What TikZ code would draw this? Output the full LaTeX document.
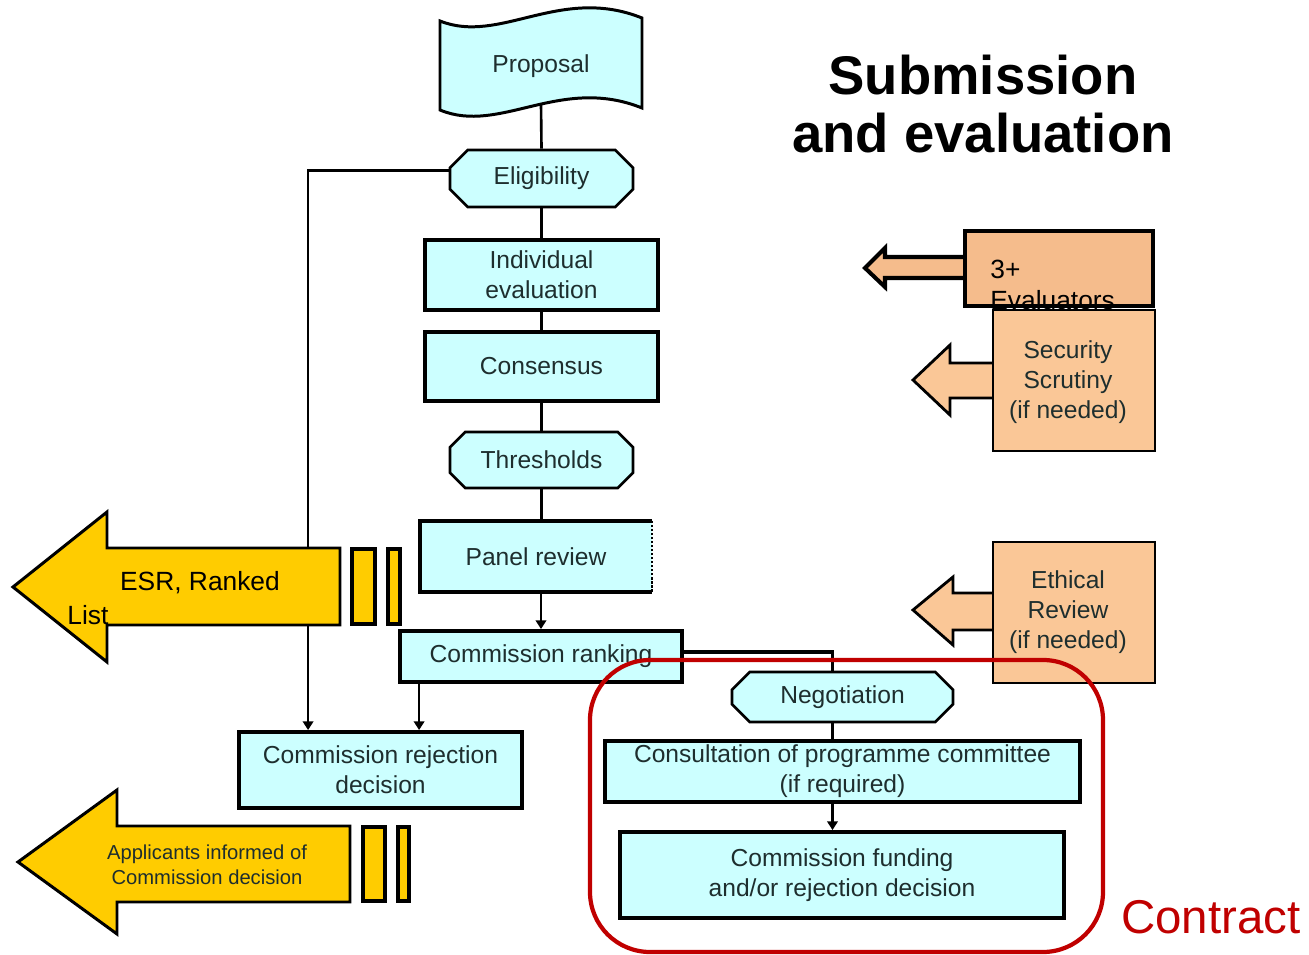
\documentclass[tikz,border=0pt]{standalone}
\usepackage{fontspec}
\setmainfont{Liberation Sans}
\usetikzlibrary{shapes.misc,arrows.meta,calc}
\definecolor{cyanfill}{HTML}{CCFFFF}
\definecolor{txt}{HTML}{1E2E2E}
\definecolor{yel}{HTML}{FFCC00}
\definecolor{org}{HTML}{FAC797}
\definecolor{orgd}{HTML}{F5BC8C}
\definecolor{redc}{HTML}{C00000}
\begin{document}
\begin{tikzpicture}[x=0.02cm,y=-0.02cm,
  boxtxt/.style={font=\fontsize{14}{17}\selectfont, text=txt, align=center},
  box/.style={boxtxt, draw=black, line width=2.2pt, fill=cyanfill, inner sep=0pt},
  chbox/.style={boxtxt, chamfered rectangle, chamfered rectangle xsep=0.26cm, draw=black, line width=1.5pt, fill=cyanfill, inner sep=0pt},
  conn/.style={line width=1.5pt, draw=black},
  arr/.style={-{Triangle[length=5pt,width=6pt]}},
  yshape/.style={fill=yel, draw=black, line width=1.7pt, line join=miter},
  ybar/.style={fill=yel, draw=black, line width=2.6pt},
  oshape/.style={fill=org, draw=black, line width=1.6pt, line join=miter}]
\useasboundingbox (0,0) rectangle (1309,955);

% Proposal banner
\draw[line width=1.7pt, fill=cyanfill] (440,21) .. controls (500,45) and (560,-15) .. (642,18) -- (642,108) .. controls (560,75) and (500,135) .. (440,110) -- cycle;
\node[boxtxt, minimum width=4.04cm, minimum height=1.48cm, inner sep=0pt] (prop) at (541,66) {Proposal};

% Main column
\node[chbox, minimum width=3.66cm, minimum height=1.14cm] (elig) at (541.5,178.5) {Eligibility};
\node[box, minimum width=4.66cm, minimum height=1.40cm] (ind) at (541.5,275) {Individual\\evaluation};
\node[box, minimum width=4.66cm, minimum height=1.38cm] (cons) at (541.5,366.5) {Consensus};
\node[chbox, minimum width=3.66cm, minimum height=1.12cm] (thr) at (541.5,460) {Thresholds};
\node[boxtxt, fill=cyanfill, inner sep=0pt, minimum width=4.64cm, minimum height=1.42cm] (pr) at (536,556.5) {Panel review};
\draw[line width=2.2pt] (pr.north east) -- (pr.north west) -- (pr.south west) -- (pr.south east);
\draw[line width=1.3pt, densely dotted] (pr.north east) -- (pr.south east);
\node[box, minimum width=5.64cm, minimum height=1.02cm] (rank) at (541,656.5) {Commission ranking};
\node[box, minimum width=5.66cm, minimum height=1.52cm] (rej) at (380.5,770) {Commission rejection\\decision};

% Contract column
\node[chbox, minimum width=4.42cm, minimum height=1.0cm] (neg) at (842.5,697) {Negotiation};
\node[box, minimum width=9.5cm, minimum height=1.22cm] (cst) at (842.5,771.5) {Consultation of programme committee\\(if required)};
\node[box, minimum width=8.88cm, minimum height=1.72cm] (fund) at (842,875) {Commission funding\\and/or rejection decision};

% Connectors
\draw[conn] (prop.south) -- (elig.north);
\draw[conn] (elig.south) -- (ind.north);
\draw[conn] (ind.south) -- (cons.north);
\draw[conn] (cons.south) -- (thr.north);
\draw[conn] (thr.south) -- (thr.south |- pr.north);
\draw[conn, arr] (pr.south -| rank.north) -- (rank.north);
\draw[conn, arr] ([yshift=0.16cm]elig.west) -| ([xshift=1.42cm]rej.north west);
\draw[conn, arr] ([xshift=0.42cm]rank.south west) coordinate (t1) -- (t1 |- rej.north);
\draw[line width=2pt] ([yshift=0.09cm]rank.east) -| ([xshift=-0.2cm]neg.north);
\draw[conn] ([xshift=-0.2cm]neg.south) coordinate (t2) -- (t2 |- cst.north);
\draw[conn, arr] ([xshift=-0.2cm]cst.south) coordinate (t3) -- (t3 |- fund.north);

% Yellow arrows
\draw[yshape] (340,548) -- (107,548) -- (107,512) -- (13,587) -- (107,662) -- (107,625) -- (340,625) -- cycle;
\draw[ybar] (352,549) rectangle (375,624);
\draw[ybar] (388,549) rectangle (400,624);
\node[font=\fontsize{15}{18}\selectfont] (esr1) at (200,583) {ESR, Ranked};
\node[font=\fontsize{15}{18}\selectfont] (esr2) at (88,615) {List};

\draw[yshape] (350,826) -- (117,826) -- (117,790) -- (18,862) -- (117,934) -- (117,902) -- (350,902) -- cycle;
\draw[ybar] (363,827) rectangle (385,901);
\draw[ybar] (398,827) rectangle (409,901);
\node[font=\fontsize{11.5}{14}\selectfont, text=txt, align=center] (appl) at (207,865) {Applicants informed of\\Commission decision};

% Orange arrows
\draw[oshape, fill=orgd, line width=2.3pt] (965,257) -- (885,257) -- (885,248) -- (865,268) -- (885,287) -- (885,278) -- (965,278);
\draw[fill=orgd, line width=2.6pt] (965,231) rectangle (1153,306);
\node[font=\fontsize{15}{17.5}\selectfont, anchor=north west, align=left, inner sep=0pt] (eval) at (990,260) {3+\\Evaluators};

\draw[oshape] (993,363) -- (950,363) -- (950,345) -- (913,380) -- (950,415) -- (950,398) -- (993,398);
\draw[oshape] (993,310) rectangle (1155,451);
\node[boxtxt] (sec) at (1068,382) {Security\\Scrutiny\\(if needed)};

\draw[oshape] (993,593) -- (953,593) -- (953,577) -- (913,610) -- (953,645) -- (953,630) -- (993,630);
\draw[oshape] (993,542) rectangle (1155,683);
\node[boxtxt] (eth) at (1068,612) {Ethical\\Review\\(if needed)};

% Contract frame
\draw[redc, line width=2.4pt, rounded corners=1.2cm] (590,660) rectangle (1103,952);
\node[text=redc, font=\fontsize{27}{30}\selectfont] (contract) at (1211,917) {Contract};

% Title
\node[font=\bfseries\fontsize{31}{33}\selectfont, align=center] (title) at (983,104) {Submission\\and evaluation};
\end{tikzpicture}
\end{document}
